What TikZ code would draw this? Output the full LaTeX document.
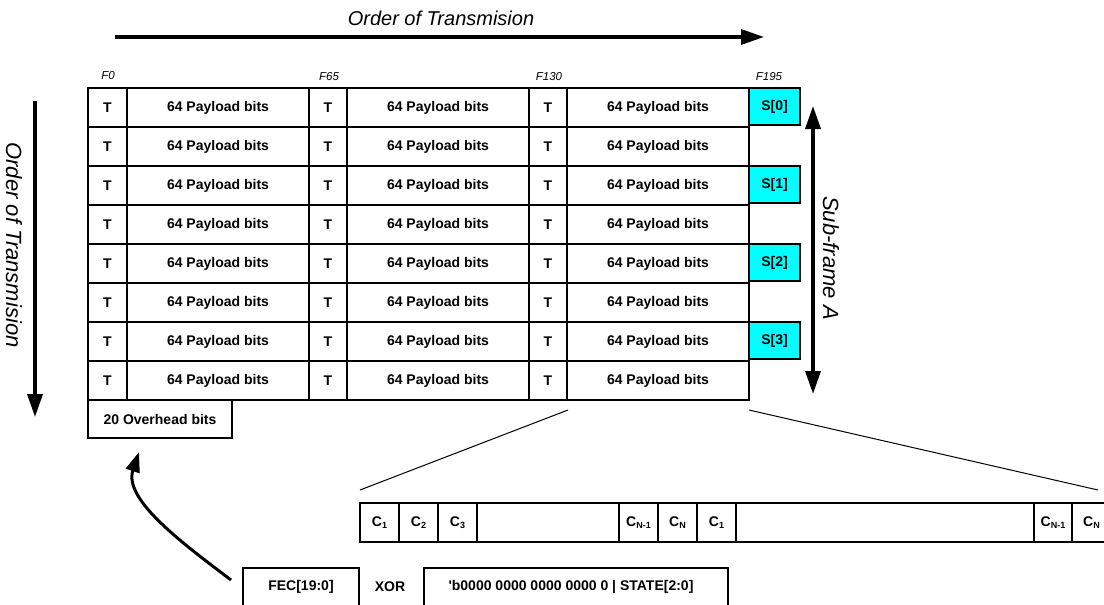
\documentclass[tikz,border=0pt]{standalone}
\usepackage{fontspec}
\setmainfont{Liberation Sans}
\usetikzlibrary{arrows.meta}
\definecolor{scyan}{RGB}{0,255,255}
\newcommand\csub[1]{C\raisebox{-2.5pt}{\fontsize{9}{9}\selectfont #1}}
\begin{document}
\begin{tikzpicture}[x=1pt,y=-1pt,
  cell/.style={draw, line width=2pt, inner sep=0pt, outer sep=0pt, minimum height=39pt,
    font=\fontsize{14}{14}\selectfont\bfseries},
  sbox/.style={cell, fill=scyan, minimum width=51pt, minimum height=37pt},
  ccell/.style={cell, font=\fontsize{14}{14}\selectfont\bfseries},
  plain/.style={font=\fontsize{14}{14}\selectfont\bfseries, inner sep=0pt},
  flabel/.style={font=\fontsize{11.5}{11.5}\selectfont\itshape, inner sep=0pt},
  biglabel/.style={font=\fontsize{20}{20}\selectfont\itshape, inner sep=0pt},
  sidelabel/.style={font=\fontsize{22}{22}\selectfont\itshape, inner sep=0pt},
  bigarrow/.style={line width=3.5pt, -{Triangle[length=23pt,width=15pt]}},
  dblarrow/.style={line width=3.5pt, {Triangle[length=23pt,width=15pt]}-{Triangle[length=23pt,width=15pt]}},
  curvearrow/.style={line width=3pt, -{Triangle[length=20pt,width=14pt]}},
  zoomline/.style={line width=1pt}
]
\useasboundingbox (0,0) rectangle (1104,605);

% top direction
\node[biglabel] (toptxt) at (441,18) {Order of Transmision};
\coordinate (ta) at (115,37);
\coordinate (tb) at (764,37);
\draw[bigarrow] (ta) -- (tb);

% left direction
\node[sidelabel, rotate=-90] (lefttxt) at (14,245) {Order of Transmision};
\coordinate (la) at (35,101);
\coordinate (lb) at (35,417);
\draw[bigarrow] (la) -- (lb);

% column labels
\node[flabel] (f0) at (108,76) {F0};
\node[flabel] (f65) at (329,77) {F65};
\node[flabel] (f130) at (549,77) {F130};
\node[flabel] (f195) at (769,77) {F195};

% grid
\foreach \r in {0,...,7}{
  \pgfmathsetmacro{\yc}{107.5+39*\r}
  \node[cell, minimum width=39pt] (ta\r) at (107.5,\yc) {T};
  \node[cell, minimum width=182pt] (pa\r) at (218,\yc) {64 Payload bits};
  \node[cell, minimum width=38pt] (tb\r) at (328,\yc) {T};
  \node[cell, minimum width=182pt] (pb\r) at (438,\yc) {64 Payload bits};
  \node[cell, minimum width=38pt] (tc\r) at (548,\yc) {T};
  \node[cell, minimum width=182pt] (pc\r) at (658,\yc) {64 Payload bits};
}
\foreach \i in {0,...,3}{
  \pgfmathsetmacro{\yc}{106.5+78*\i}
  \node[sbox] (s\i) at (774.5,\yc) {S[\i]};
}
\node[cell, minimum width=144pt, minimum height=38pt] (ovh) at (160,419) {20 Overhead bits};

% sub-frame arrow
\coordinate (sa) at (813,106);
\coordinate (sb) at (813,394);
\draw[dblarrow] (sa) -- (sb);
\node[sidelabel, rotate=-90] (subtxt) at (831,258) {Sub-frame A};

% zoom lines
\coordinate (zs1) at (568,410);
\coordinate (ze1) at (360,490);
\coordinate (zs2) at (749,410);
\coordinate (ze2) at (1098,490);
\draw[zoomline] (zs1) -- (ze1);
\draw[zoomline] (zs2) -- (ze2);

% C row
\node[ccell, minimum width=39pt] (c1) at (379.5,522.5) {\csub{1}};
\node[ccell, minimum width=39pt] (c2) at (418.5,522.5) {\csub{2}};
\node[ccell, minimum width=39pt] (c3) at (457.5,522.5) {\csub{3}};
\node[ccell, minimum width=142pt] (cgap1) at (548,522.5) {};
\node[ccell, minimum width=39pt] (cn1) at (638.5,522.5) {\csub{N-1}};
\node[ccell, minimum width=39pt] (cn) at (677.5,522.5) {\csub{N}};
\node[ccell, minimum width=39pt] (c1b) at (716.5,522.5) {\csub{1}};
\node[ccell, minimum width=298pt] (cgap2) at (885,522.5) {};
\node[ccell, minimum width=38pt] (cn1b) at (1053,522.5) {\csub{N-1}};
\node[ccell, minimum width=39pt] (cnb) at (1091.5,522.5) {\csub{N}};

% FEC line
\node[cell, minimum width=116pt, minimum height=52pt, anchor=north] (fecbox) at (301,568) {};
\node[plain] (fectxt) at (301,587) {FEC[19:0]};
\node[plain] (xor) at (390,587) {XOR};
\node[cell, minimum width=304pt, minimum height=52pt, anchor=north] (statebox) at (576,568) {};
\node[plain] (statetxt) at (571,587) {\textquotesingle b0000 0000 0000 0000 0 | STATE[2:0]};

% curved arrow
\coordinate (cs) at (231,580);
\coordinate (ce) at (139,452);
\draw[curvearrow] (cs) .. controls (185,545) and (123,500) .. (ce);
\end{tikzpicture}
\end{document}
